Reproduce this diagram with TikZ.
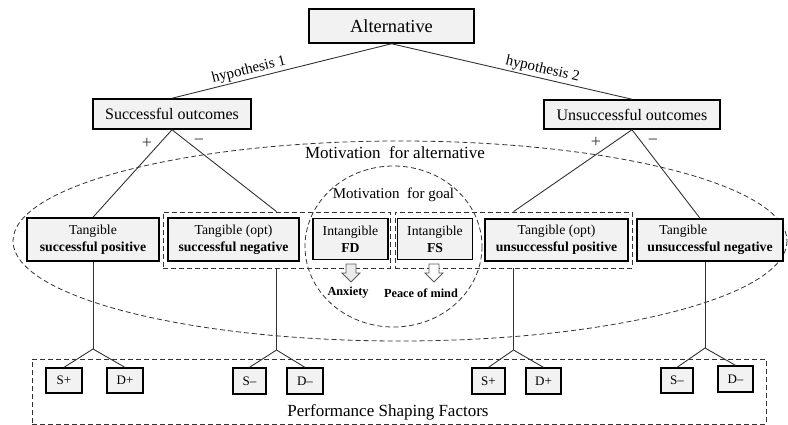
\documentclass[tikz,border=0pt]{standalone}
\usepackage{fontspec}
\setmainfont{Liberation Serif}
\usetikzlibrary{calc}
\definecolor{boxfill}{HTML}{F2F2F2}
\definecolor{lncol}{HTML}{333333}
\begin{document}
\begin{tikzpicture}[x=1pt,y=-1pt,
  box/.style={draw=black, line width=1.5pt, fill=boxfill, inner sep=0pt, align=center, text=black},
  bigbox/.style={box, font=\fontsize{13.7}{17}\selectfont},
  smallbox/.style={box, line width=1.3pt, font=\fontsize{13}{15}\selectfont},
  grp/.style={draw=lncol, line width=0.8pt, dash pattern=on 5pt off 3pt, inner sep=0pt},
  dsh/.style={draw=lncol, line width=0.8pt, dash pattern=on 5pt off 3pt},
  conn/.style={draw=lncol, line width=0.9pt},
  hyp/.style={font=\fontsize{15}{18}\selectfont, inner sep=1.5pt},
  pm/.style={font=\fontsize{18}{20}\selectfont, inner sep=0pt, text=black!80},
  outl/.style={font=\bfseries\fontsize{12.3}{14}\selectfont, inner sep=0pt},
  blockarr/.style={draw=black!65, line width=0.8pt, line join=miter}
]
\useasboundingbox (0,0) rectangle (788,425);

% ellipses
\draw[dsh] (400,241) ellipse [x radius=387, y radius=100];
\draw[dsh] (393.5,246.5) ellipse [x radius=88.5, y radius=80.5];

% group rectangles
\node[grp, minimum width=227, minimum height=56] (grpL) at (276.5,240) {};
\node[grp, minimum width=237, minimum height=56] (grpR) at (513.5,240) {};
\node[grp, minimum width=734, minimum height=65] (psf) at (399,391.5) {};

% top level
\node[box, font=\fontsize{18.4}{21}\selectfont, minimum width=165, minimum height=34] (alt) at (391.5,26) {Alternative};
\node[box, font=\fontsize{16}{19}\selectfont, minimum width=158, minimum height=30] (so) at (172,114) {Successful outcomes};
\node[box, font=\fontsize{16}{19}\selectfont, minimum width=176, minimum height=29] (uo) at (632,114.5) {Unsuccessful outcomes};

% second level boxes
\node[bigbox, minimum width=132, minimum height=43] (tsp) at (93,239.5) {Tangible\\\textbf{successful positive}};
\node[bigbox, minimum width=131, minimum height=43] (tsn) at (233.5,239.5) {Tangible (opt)\\\textbf{successful negative}};
\node[bigbox, minimum width=75, minimum height=41] (fd) at (350.5,239) {Intangible\\\textbf{FD}};
\node[bigbox, minimum width=75, minimum height=41] (fs) at (435,239) {Intangible\\\textbf{FS}};
\node[bigbox, minimum width=143, minimum height=42] (tup) at (556.5,240) {Tangible (opt)\\\textbf{unsuccessful positive}};
\node[bigbox, minimum width=146, minimum height=42, align=left] (tun) at (710,240) {\hspace*{12pt}Tangible\\\textbf{unsuccessful negative}};

% texts
\node[font=\fontsize{17}{20}\selectfont, inner sep=0pt] (malt) at (395,153) {Motivation\ \ for alternative};
\node[font=\fontsize{15}{18}\selectfont, inner sep=0pt] (mgoal) at (393.5,195) {Motivation\ \ for goal};
\node[outl] (anx) at (348,293) {Anxiety};
\node[outl] (peace) at (421,293) {Peace of mind};
\node[font=\fontsize{17}{20}\selectfont, inner sep=0pt] (psft) at (388,412) {Performance Shaping Factors};

% block arrows
\draw[blockarr, fill=black!8] (346,264) -- (356,264) -- (356,273) -- (360,273) -- (351,282) -- (342,273) -- (346,273) -- cycle;
\draw[blockarr, fill=white] (429,264) -- (439,264) -- (439,273) -- (443,273) -- (434,282) -- (425,273) -- (429,273) -- cycle;

% connectors top
\draw[conn] (alt.south) -- node[hyp, pos=0.64, sloped, above] {hypothesis 1} (so.north);
\draw[conn] (alt.south) -- node[hyp, pos=0.62, sloped, above] {hypothesis 2} (uo.north);
\draw[conn] (so.south) -- (tsp.north);
\draw[conn] (so.south) -- (grpL.north);
\draw[conn] (uo.south) -- (grpR.north);
\draw[conn] (uo.south) -- ($(tun.north)+(-10,0)$);

\node[pm] (p1) at (147,143) {+};
\node[pm] (m1) at (199,142) {−};
\node[pm] (p2) at (596,142) {+};
\node[pm] (m2) at (653,142) {−};

% small boxes
\node[smallbox, minimum width=36, minimum height=25] (sp1) at (64,380.5) {S+};
\node[smallbox, minimum width=36, minimum height=25] (dp1) at (125,380.5) {D+};
\node[smallbox, minimum width=33, minimum height=26] (sm1) at (249.5,381) {S–};
\node[smallbox, minimum width=36, minimum height=26] (dm1) at (305,381) {D–};
\node[smallbox, minimum width=33, minimum height=26] (sp2) at (488.5,381) {S+};
\node[smallbox, minimum width=35, minimum height=26] (dp2) at (543.5,381) {D+};
\node[smallbox, minimum width=32, minimum height=25] (sm2) at (677,380.5) {S–};
\node[smallbox, minimum width=35, minimum height=26] (dm2) at (735.5,379) {D–};

\coordinate (j1) at (93,349);
\coordinate (j2) at (276.5,350);
\coordinate (j3) at (513.5,350);
\coordinate (j4) at (705,348);

\draw[conn] (tsp.south) -- (j1);
\draw[conn] (j1) -- (sp1.north);
\draw[conn] (j1) -- (dp1.north);
\draw[conn] (grpL.south) -- (j2);
\draw[conn] (j2) -- (sm1.north);
\draw[conn] (j2) -- (dm1.north);
\draw[conn] (grpR.south) -- (j3);
\draw[conn] (j3) -- (sp2.north);
\draw[conn] (j3) -- (dp2.north);
\draw[conn] (tun.south -| j4) -- (j4);
\draw[conn] (j4) -- (sm2.north);
\draw[conn] (j4) -- (dm2.north);
\end{tikzpicture}
\end{document}
